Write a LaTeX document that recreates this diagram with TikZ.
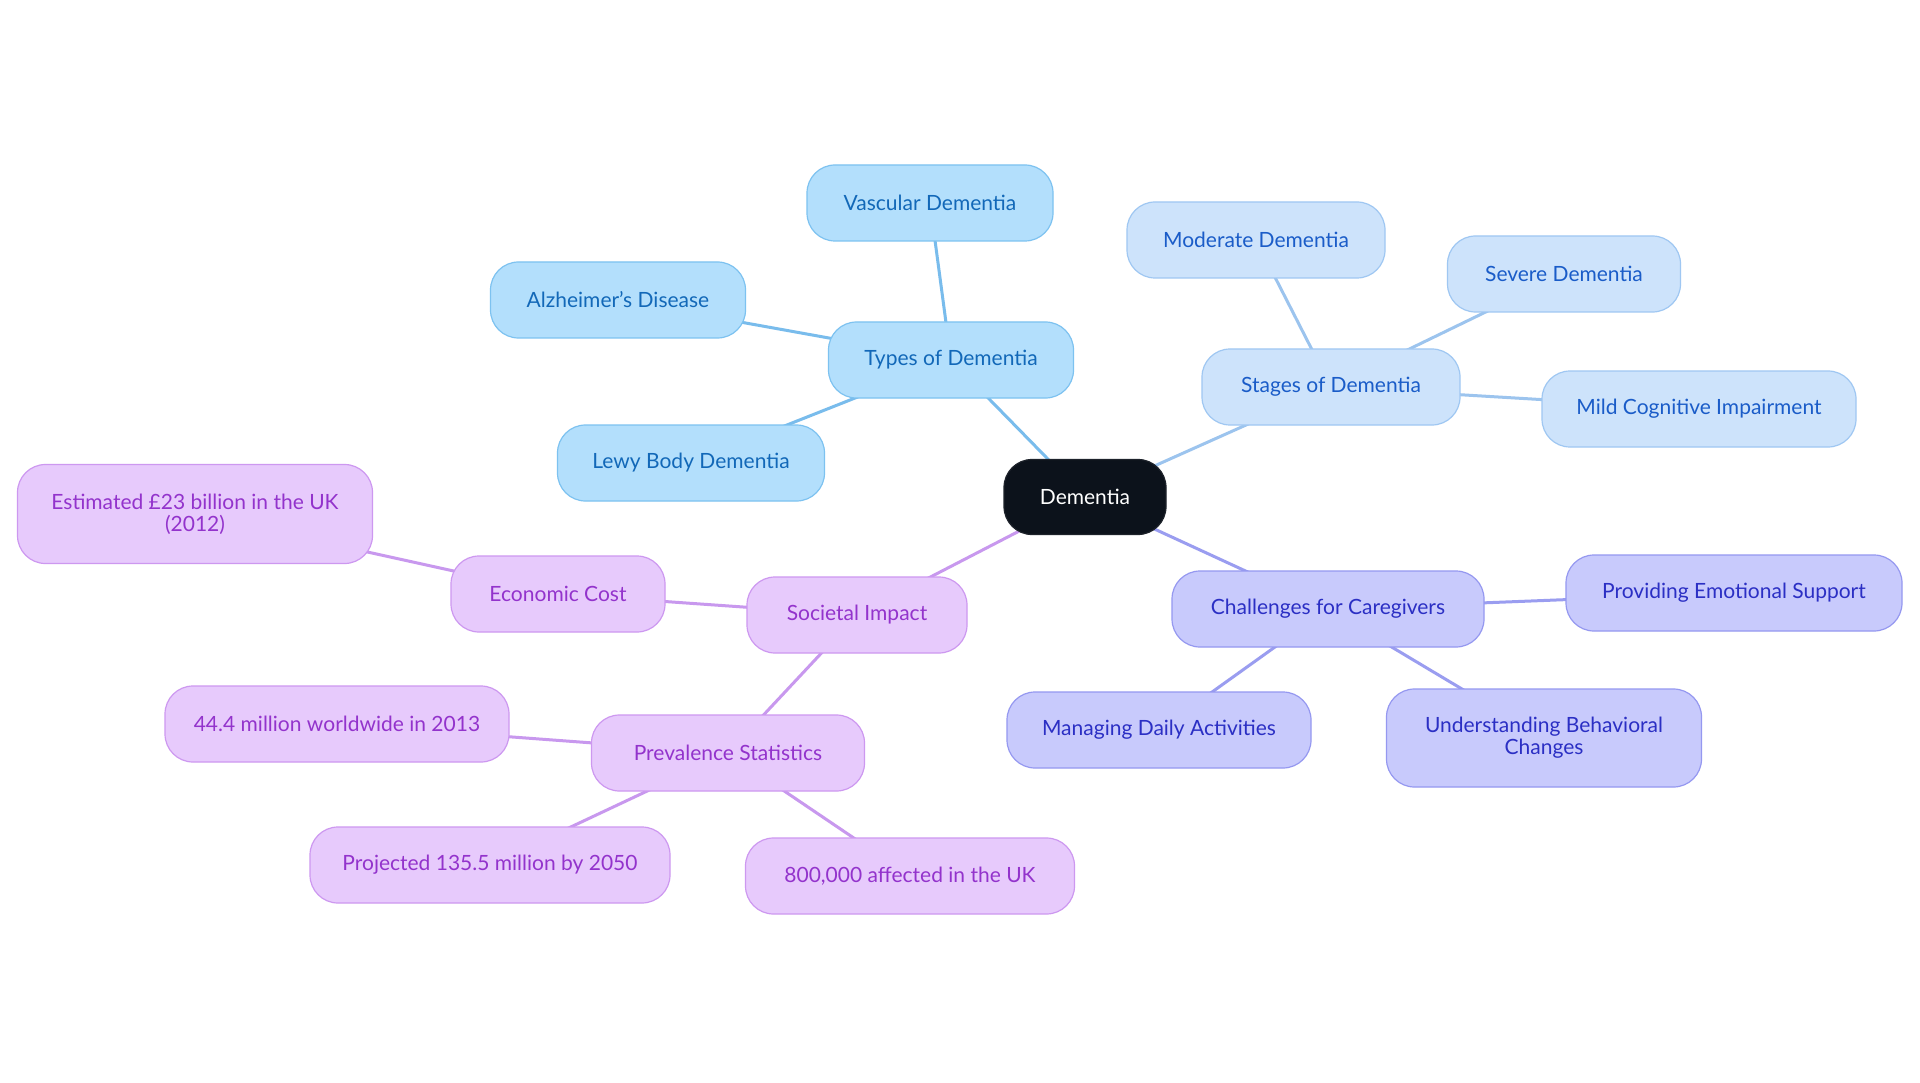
\documentclass[tikz,border=0pt]{standalone}
\usepackage{fontspec}
\setmainfont{Lato}
\usetikzlibrary{backgrounds}
\definecolor{rootc}{HTML}{0C121B}
\definecolor{typfill}{HTML}{B3DFFC}
\definecolor{typdraw}{HTML}{7DC2F0}
\definecolor{typtext}{HTML}{1268B8}
\definecolor{typedge}{HTML}{79BCEC}
\definecolor{stgfill}{HTML}{CDE3FB}
\definecolor{stgdraw}{HTML}{9FC7F2}
\definecolor{stgtext}{HTML}{1A5CC8}
\definecolor{stgedge}{HTML}{9CC4EE}
\definecolor{chfill}{HTML}{C8CAFC}
\definecolor{chdraw}{HTML}{9598F0}
\definecolor{chtext}{HTML}{2B2FC4}
\definecolor{chedge}{HTML}{9A9DF0}
\definecolor{sofill}{HTML}{E7CAFC}
\definecolor{sodraw}{HTML}{CD98F0}
\definecolor{sotext}{HTML}{9333CC}
\definecolor{soedge}{HTML}{C898EE}
\begin{document}
\begin{tikzpicture}[x=1pt,y=-1pt,
  base/.style={rounded corners=28pt, line width=1.2pt, align=center, font=\fontsize{21}{22}\selectfont, inner sep=0pt, minimum height=76pt},
  rootbox/.style={base, fill=rootc, draw=rootc!85!gray, text=white},
  typbox/.style={base, fill=typfill, draw=typdraw, text=typtext},
  stgbox/.style={base, fill=stgfill, draw=stgdraw, text=stgtext},
  chbox/.style={base, fill=chfill, draw=chdraw, text=chtext},
  sobox/.style={base, fill=sofill, draw=sodraw, text=sotext},
  link/.style={line width=3pt}]
\useasboundingbox (0,0) rectangle (1920,1083);

\node[rootbox, minimum width=162pt, minimum height=75pt] (root) at (1085,497) {Dementia};

\node[typbox, minimum width=245pt] (types) at (951,360) {Types of Dementia};
\node[typbox, minimum width=246pt] (vasc) at (930,203) {Vascular Dementia};
\node[typbox, minimum width=255pt] (alz) at (618,300) {Alzheimer’s Disease};
\node[typbox, minimum width=267pt] (lewy) at (691,463) {Lewy Body Dementia};

\node[stgbox, minimum width=258pt] (stages) at (1331,387) {Stages of Dementia};
\node[stgbox, minimum width=258pt] (mod) at (1256,240) {Moderate Dementia};
\node[stgbox, minimum width=233pt] (sev) at (1564,274) {Severe Dementia};
\node[stgbox, minimum width=314pt] (mild) at (1699,409) {Mild Cognitive Impairment};

\node[chbox, minimum width=312pt] (chal) at (1328,609) {Challenges for Caregivers};
\node[chbox, minimum width=336pt] (emo) at (1734,593) {Providing Emotional Support};
\node[chbox, minimum width=304pt] (daily) at (1159,730) {Managing Daily Activities};
\node[chbox, minimum width=315pt, minimum height=98pt] (behav) at (1544,738) {Understanding Behavioral\\Changes};

\node[sobox, minimum width=220pt] (soc) at (857,615) {Societal Impact};
\node[sobox, minimum width=214pt] (econ) at (558,594) {Economic Cost};
\node[sobox, minimum width=355pt, minimum height=99pt] (est) at (195,514) {Estimated £23 billion in the UK\\(2012)};
\node[sobox, minimum width=273pt] (prev) at (728,753) {Prevalence Statistics};
\node[sobox, minimum width=344pt] (world) at (337,724) {44.4 million worldwide in 2013};
\node[sobox, minimum width=360pt] (proj) at (490,865) {Projected 135.5 million by 2050};
\node[sobox, minimum width=329pt] (uk) at (910,876) {800,000 affected in the UK};

\begin{scope}[on background layer]
\fill[white] (0,0) rectangle (1920,1083);
\draw[link, typedge] (root.center) -- (types.center);
\draw[link, typedge] (types.center) -- (vasc.center);
\draw[link, typedge] (types.center) -- (alz.center);
\draw[link, typedge] (types.center) -- (lewy.center);
\draw[link, stgedge] (root.center) -- (stages.center);
\draw[link, stgedge] (stages.center) -- (mod.center);
\draw[link, stgedge] (stages.center) -- (sev.center);
\draw[link, stgedge] (stages.center) -- (mild.center);
\draw[link, chedge] (root.center) -- (chal.center);
\draw[link, chedge] (chal.center) -- (emo.center);
\draw[link, chedge] (chal.center) -- (daily.center);
\draw[link, chedge] (chal.center) -- (behav.center);
\draw[link, soedge] (root.center) -- (soc.center);
\draw[link, soedge] (soc.center) -- (econ.center);
\draw[link, soedge] (econ.center) -- (est.center);
\draw[link, soedge] (soc.center) -- (prev.center);
\draw[link, soedge] (prev.center) -- (world.center);
\draw[link, soedge] (prev.center) -- (proj.center);
\draw[link, soedge] (prev.center) -- (uk.center);
\end{scope}
\end{tikzpicture}
\end{document}
